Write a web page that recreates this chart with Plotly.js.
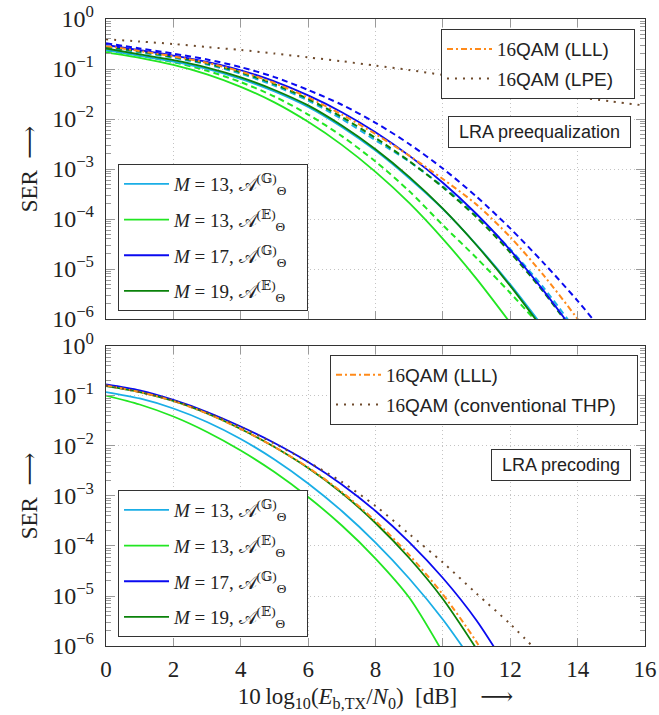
<!DOCTYPE html>
<html>
<head>
<meta charset="utf-8">
<script src="https://cdn.plot.ly/plotly-3.0.1.min.js"></script>
<style>
  html, body { margin: 0; padding: 0; background: #fff; }
  #chart { width: 659px; height: 715px; }
</style>
</head>
<body>
<div id="chart"></div>
<script>
// ---------------- data ----------------
const dB = [0, 1, 2, 3, 4, 5, 6, 7, 8, 9, 10, 11, 12, 13, 14, 15, 16];

// Top panel: LRA preequalization (SER values)
const topM13G      = [2.40e-1, 1.83e-1, 1.41e-1, 1.00e-1, 6.35e-2, 3.56e-2, 1.74e-2, 6.90e-3, 2.33e-3, 6.52e-4, 1.58e-4, 3.05e-5, 4.92e-6, 6.61e-7];
const topM13E      = [2.15e-1, 1.67e-1, 1.21e-1, 7.82e-2, 4.40e-2, 2.15e-2, 8.77e-3, 3.04e-3, 8.77e-4, 2.10e-4, 4.01e-5, 6.35e-6, 8.38e-7];
const topM17G      = [3.02e-1, 2.37e-1, 1.86e-1, 1.39e-1, 9.44e-2, 5.66e-2, 2.96e-2, 1.37e-2, 5.45e-3, 1.85e-3, 5.32e-4, 1.26e-4, 2.39e-5, 3.61e-6, 4.54e-7];
const topM19E      = [2.57e-1, 1.96e-1, 1.51e-1, 1.07e-1, 6.81e-2, 3.81e-2, 1.87e-2, 7.40e-3, 2.49e-3, 6.98e-4, 1.61e-4, 2.99e-5, 4.59e-6, 5.89e-7];
const topM13Gdash  = [2.69e-1, 2.15e-1, 1.68e-1, 1.23e-1, 8.05e-2, 4.66e-2, 2.34e-2, 1.00e-2, 3.76e-3, 1.41e-3, 4.49e-4, 1.20e-4, 2.48e-5, 4.15e-6, 5.28e-7];
const topM13Edash  = [2.35e-1, 1.84e-1, 1.37e-1, 9.23e-2, 5.47e-2, 2.82e-2, 1.23e-2, 4.55e-3, 1.41e-3, 3.62e-4, 7.53e-5, 1.66e-5, 3.32e-6, 6.03e-7];
const topM17Gdash  = [3.26e-1, 2.58e-1, 2.03e-1, 1.55e-1, 1.09e-1, 6.89e-2, 3.81e-2, 1.93e-2, 8.41e-3, 3.17e-3, 1.02e-3, 2.80e-4, 6.49e-5, 1.30e-5, 2.31e-6, 3.49e-7];
const topM19Edash  = [2.82e-1, 2.24e-1, 1.75e-1, 1.29e-1, 8.57e-2, 4.98e-2, 2.52e-2, 1.10e-2, 4.18e-3, 1.44e-3, 4.30e-4, 1.08e-4, 2.14e-5, 3.39e-6, 4.25e-7];
const topQAMLLL    = [2.88e-1, 2.29e-1, 1.79e-1, 1.33e-1, 8.91e-2, 5.24e-2, 2.69e-2, 1.23e-2, 5.00e-3, 1.85e-3, 6.31e-4, 1.94e-4, 4.36e-5, 7.36e-6, 1.00e-6, 1.15e-7];
const topQAMLPE    = [3.92e-1, 3.55e-1, 3.16e-1, 2.75e-1, 2.40e-1, 2.04e-1, 1.71e-1, 1.43e-1, 1.17e-1, 9.55e-2, 7.59e-2, 5.82e-2, 4.47e-2, 3.51e-2, 2.75e-2, 2.24e-2, 1.86e-2];

// Bottom panel: LRA precoding (SER values)
const botM13G      = [1.20e-1, 8.91e-2, 5.62e-2, 3.02e-2, 1.38e-2, 5.37e-3, 1.78e-3, 5.01e-4, 1.17e-4, 2.24e-5, 3.39e-6, 3.80e-7];
const botM13E      = [1.02e-1, 6.76e-2, 3.89e-2, 1.91e-2, 8.13e-3, 3.02e-3, 9.55e-4, 2.57e-4, 5.62e-5, 9.33e-6, 7.41e-7];
const botM17G      = [1.70e-1, 1.29e-1, 8.32e-2, 4.79e-2, 2.45e-2, 1.15e-2, 4.79e-3, 1.70e-3, 5.01e-4, 1.20e-4, 2.29e-5, 3.24e-6, 2.88e-7];
const botM19E      = [1.58e-1, 1.20e-1, 7.94e-2, 4.47e-2, 2.19e-2, 9.55e-3, 3.63e-3, 1.15e-3, 2.88e-4, 5.75e-5, 8.71e-6, 8.71e-7];
const botQAMLLL    = [1.62e-1, 1.20e-1, 7.94e-2, 4.47e-2, 2.19e-2, 9.55e-3, 3.72e-3, 1.20e-3, 3.16e-4, 6.61e-5, 1.07e-5, 1.20e-6, 8.51e-8];
const botQAMTHP    = [1.62e-1, 1.20e-1, 8.13e-2, 4.68e-2, 2.40e-2, 1.12e-2, 4.79e-3, 1.91e-3, 6.31e-4, 1.74e-4, 4.68e-5, 1.12e-5, 2.75e-6, 5.75e-7];

// tick labels
const xTickVals = [0, 2, 4, 6, 8, 10, 12, 14, 16];
const yTickVals = [1e-6, 1e-5, 1e-4, 1e-3, 1e-2, 1e-1, 1];
const yTickText = ['10<sup>\u22126</sup>', '10<sup>\u22125</sup>', '10<sup>\u22124</sup>', '10<sup>\u22123</sup>', '10<sup>\u22122</sup>', '10<sup>\u22121</sup>', '10<sup>0</sup>'];
const minorMantissas = [2, 3, 4, 5, 6, 7, 8, 9];
const decades = [1e-6, 1e-5, 1e-4, 1e-3, 1e-2, 1e-1];

// legend labels
const NB = '\u00a0\u00a0\u00a0';
const labM13G = '<i>M</i> = 13, \ud835\udc9c<sup>(\ud835\udd3e)</sup><sub>\u0398</sub>' + NB;
const labM13E = '<i>M</i> = 13, \ud835\udc9c<sup>(\ud835\udd3c)</sup><sub>\u0398</sub>' + NB;
const labM17G = '<i>M</i> = 17, \ud835\udc9c<sup>(\ud835\udd3e)</sup><sub>\u0398</sub>' + NB;
const labM19E = '<i>M</i> = 19, \ud835\udc9c<sup>(\ud835\udd3c)</sup><sub>\u0398</sub>' + NB;
const labLLL = '<span style="font-family:Liberation Serif">16</span>QAM (LLL)' + NB;
const labLPE = '<span style="font-family:Liberation Serif">16</span>QAM (LPE)' + NB;
const labTHP = '<span style="font-family:Liberation Serif">16</span>QAM (conventional THP)' + NB;

// ---------------- styling ----------------
const C_LB = '#1aaee6', C_G = '#22e622', C_B = '#0a0af0', C_DG = '#0a820a', C_OR = '#ff8a1a', C_BR = '#6e4a2c';
const serif = 'Liberation Serif, DejaVu Serif, serif';
const sans = 'Liberation Sans, Arial, sans-serif';

const minorVals = [];
decades.forEach(d => minorMantissas.forEach(m => minorVals.push(m * d)));

function tr(y, color, dash, xa, ya, opts) {
  return Object.assign({
    type: 'scatter', mode: 'lines', x: dB, y: y, xaxis: xa, yaxis: ya,
    line: {color: color, width: dash === 'solid' ? 1.8 : 2, dash: dash, shape: 'spline', smoothing: 0.8},
    showlegend: false, hoverinfo: 'skip'
  }, opts || {});
}

const DASH = '6px,4px';
const DASHDOT = '6px,3px,2px,3px';
const DOT = '2px,6px';

const traces = [
  // top dashed (no legend)
  tr(topM13Edash, C_G, DASH, 'x2', 'y2'),
  tr(topM13Gdash, C_LB, DASH, 'x2', 'y2'),
  tr(topM19Edash, C_DG, DASH, 'x2', 'y2'),
  tr(topM17Gdash, C_B, DASH, 'x2', 'y2'),
  // top solid
  tr(topM13G, C_LB, 'solid', 'x2', 'y2', {name: labM13G, showlegend: true, legend: 'legend2', legendgroup: 'a1'}),
  tr(topM13E, C_G, 'solid', 'x2', 'y2', {name: labM13E, showlegend: true, legend: 'legend2', legendgroup: 'a2'}),
  tr(topM17G, C_B, 'solid', 'x2', 'y2', {name: labM17G, showlegend: true, legend: 'legend2', legendgroup: 'a3'}),
  tr(topM19E, C_DG, 'solid', 'x2', 'y2', {name: labM19E, showlegend: true, legend: 'legend2', legendgroup: 'a4'}),
  tr(topQAMLLL, C_OR, DASHDOT, 'x2', 'y2', {name: labLLL, showlegend: true, legend: 'legend', legendgroup: 'b1'}),
  tr(topQAMLPE, C_BR, DOT, 'x2', 'y2', {name: labLPE, showlegend: true, legend: 'legend', legendgroup: 'b2'}),
  // bottom
  tr(botM13G, C_LB, 'solid', 'x', 'y', {name: labM13G, showlegend: true, legend: 'legend4', legendgroup: 'c1'}),
  tr(botM13E, C_G, 'solid', 'x', 'y', {name: labM13E, showlegend: true, legend: 'legend4', legendgroup: 'c2'}),
  tr(botM17G, C_B, 'solid', 'x', 'y', {name: labM17G, showlegend: true, legend: 'legend4', legendgroup: 'c3'}),
  tr(botM19E, C_DG, 'solid', 'x', 'y', {name: labM19E, showlegend: true, legend: 'legend4', legendgroup: 'c4'}),
  tr(botQAMLLL, C_OR, DASHDOT, 'x', 'y', {name: labLLL, showlegend: true, legend: 'legend3', legendgroup: 'd1'}),
  tr(botQAMTHP, C_BR, DOT, 'x', 'y', {name: labTHP, showlegend: true, legend: 'legend3', legendgroup: 'd2'})
];

function xAxis(extra) {
  return Object.assign({
    range: [0, 16], tickmode: 'array', tickvals: xTickVals,
    ticks: 'inside', ticklen: 8, tickwidth: 1, tickcolor: '#9a9a9a',
    showline: true, linecolor: '#333', linewidth: 1.2, mirror: 'allticks',
    showgrid: true, gridcolor: '#c4c4c4', griddash: '1px,3px', gridwidth: 1, zeroline: false,
    tickfont: {family: serif, size: 23, color: '#222'}, ticklabelstandoff: 2, fixedrange: true
  }, extra);
}
function yAxis(extra) {
  return Object.assign({
    type: 'log', range: [-6, 0], tickmode: 'array', tickvals: yTickVals, ticktext: yTickText,
    ticks: 'inside', ticklen: 9, tickwidth: 1, tickcolor: '#9a9a9a',
    minor: {tickmode: 'array', tickvals: minorVals, ticks: 'inside', ticklen: 5, tickwidth: 1, tickcolor: '#9a9a9a', showgrid: false},
    showline: true, linecolor: '#333', linewidth: 1.2, mirror: 'allticks',
    showgrid: true, gridcolor: '#c4c4c4', griddash: '1px,3px', gridwidth: 1, zeroline: false,
    tickfont: {family: serif, size: 24, color: '#222'}, ticklabelstandoff: 6,
    title: {text: 'SER\u2002\u27f6', font: {family: serif, size: 23, color: '#222'}, standoff: 8},
    fixedrange: true
  }, extra);
}

const boxLegend = {bgcolor: '#fff', bordercolor: '#333', borderwidth: 1, itemwidth: 45, traceorder: 'grouped'};

const layout = {
  width: 659, height: 715,
  margin: {l: 106, r: 14, t: 19, b: 69},
  paper_bgcolor: '#fff', plot_bgcolor: '#fff',
  xaxis: xAxis({anchor: 'y', domain: [0, 1],
    title: {text: '10\u2009log<sub>10</sub>(<i>E</i><sub>b,TX</sub>/<i>N</i><sub>0</sub>)\u2002[dB]\u2003\u27f6', font: {family: serif, size: 23, color: '#222'}, standoff: 7}}),
  xaxis2: xAxis({anchor: 'y2', domain: [0, 1], showticklabels: false, matches: 'x'}),
  yaxis: yAxis({anchor: 'x', domain: [0, 0.4785]}),
  yaxis2: yAxis({anchor: 'x2', domain: [0.5215, 1]}),
  legend: Object.assign({}, boxLegend, {x: 0.6215, y: 0.984, xanchor: 'left', yanchor: 'top', tracegroupgap: 2,
    font: {family: sans, size: 19, color: '#222'}}),
  legend2: Object.assign({}, boxLegend, {x: 0.0223, y: 0.5343, xanchor: 'left', yanchor: 'bottom', tracegroupgap: 8,
    font: {family: serif, size: 19, color: '#222'}}),
  legend3: Object.assign({}, boxLegend, {x: 0.4156, y: 0.4641, xanchor: 'left', yanchor: 'top', tracegroupgap: 2,
    font: {family: sans, size: 19, color: '#222'}}),
  legend4: Object.assign({}, boxLegend, {x: 0.0223, y: 0.01435, xanchor: 'left', yanchor: 'bottom', tracegroupgap: 8,
    font: {family: serif, size: 19, color: '#222'}}),
  annotations: [
    {xref: 'paper', yref: 'paper', x: 0.974, y: 0.8198, xanchor: 'right', yanchor: 'middle',
     text: '\u00a0LRA preequalization\u00a0', showarrow: false, font: {family: sans, size: 18, color: '#222'},
     bordercolor: '#333', borderwidth: 1, borderpad: 5, bgcolor: '#fff'},
    {xref: 'paper', yref: 'paper', x: 0.974, y: 0.2879, xanchor: 'right', yanchor: 'middle',
     text: '\u00a0LRA precoding\u00a0', showarrow: false, font: {family: sans, size: 18, color: '#222'},
     bordercolor: '#333', borderwidth: 1, borderpad: 5, bgcolor: '#fff'}
  ]
};

Plotly.newPlot('chart', traces, layout, {displayModeBar: false, staticPlot: true});
</script>
</body>
</html>
